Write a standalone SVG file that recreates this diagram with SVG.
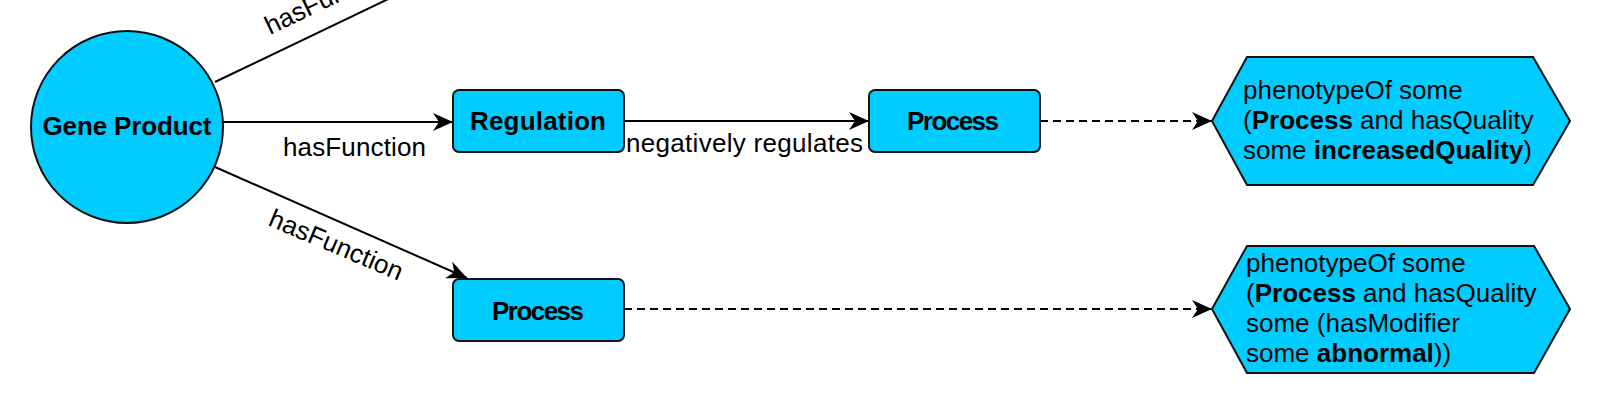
<svg xmlns="http://www.w3.org/2000/svg" width="1600" height="400" viewBox="0 0 1600 400">
  <style>
    .node { fill: #00ccff; stroke: #111; stroke-width: 2; }
    .edge { fill: none; stroke: #000; stroke-width: 2; }
    .dashed { stroke-dasharray: 8 5; }
    .lbl { font-family: "Liberation Sans", Arial, sans-serif; font-size: 26px; fill: #000; }
    .b { font-weight: bold; }
  </style>
  <defs>
    <marker id="arrow" markerUnits="userSpaceOnUse" markerWidth="20" markerHeight="18" refX="20" refY="9" orient="auto" viewBox="0 0 20 18">
      <path d="M0,0 L20,9 L0,18 L6,9 Z" fill="#000"/>
    </marker>
  </defs>
  <rect width="1600" height="400" fill="#fff"/>

  <g id="connectors">
    <line class="edge" x1="215" y1="82" x2="430" y2="-21"/>
    <text class="lbl" x="270" y="35" transform="rotate(-25.5 270 35)">hasFunction</text>

    <line class="edge" x1="222" y1="122" x2="453" y2="122" marker-end="url(#arrow)"/>
    <text class="lbl" x="283" y="156" textLength="143">hasFunction</text>

    <line class="edge" x1="215" y1="167" x2="467" y2="278" marker-end="url(#arrow)"/>
    <text class="lbl" x="267" y="225" transform="rotate(23 267 225)" textLength="143">hasFunction</text>

    <line class="edge" x1="624" y1="121" x2="869" y2="121" marker-end="url(#arrow)"/>
    <text class="lbl" x="626" y="152" textLength="237">negatively regulates</text>

    <line class="edge dashed" x1="1040" y1="121" x2="1212" y2="121" marker-end="url(#arrow)"/>
    <line class="edge dashed" x1="624" y1="309" x2="1212" y2="309" marker-end="url(#arrow)"/>
  </g>

  <g id="gene-product">
    <circle class="node" cx="127" cy="127" r="96"/>
    <text class="lbl b" x="127" y="135" text-anchor="middle" textLength="169">Gene Product</text>
  </g>

  <g id="regulation">
    <rect class="node" x="453" y="90" width="171" height="62" rx="6"/>
    <text class="lbl b" x="538" y="130" text-anchor="middle" textLength="136">Regulation</text>
  </g>

  <g id="process-top">
    <rect class="node" x="869" y="90" width="171" height="62" rx="6"/>
    <text class="lbl b" x="953" y="130" text-anchor="middle" textLength="92">Process</text>
  </g>

  <g id="process-bottom">
    <rect class="node" x="453" y="279" width="171" height="62" rx="6"/>
    <text class="lbl b" x="538" y="320" text-anchor="middle" textLength="92">Process</text>
  </g>

  <g id="phenotype-increased">
    <polygon class="node" points="1212,121 1247,57 1533,57 1570,121 1533,185 1247,185"/>
    <text class="lbl" x="1243" y="99">phenotypeOf some</text>
    <text class="lbl" x="1243" y="129">(<tspan class="b">Process</tspan> and hasQuality</text>
    <text class="lbl" x="1243" y="159">some <tspan class="b">increasedQuality</tspan>)</text>
  </g>

  <g id="phenotype-abnormal">
    <polygon class="node" points="1212,309 1247,246 1534,246 1570,309 1534,373 1247,373"/>
    <text class="lbl" x="1246" y="272">phenotypeOf some</text>
    <text class="lbl" x="1246" y="302">(<tspan class="b">Process</tspan> and hasQuality</text>
    <text class="lbl" x="1246" y="332">some (hasModifier</text>
    <text class="lbl" x="1246" y="362">some <tspan class="b">abnormal</tspan>))</text>
  </g>
</svg>
